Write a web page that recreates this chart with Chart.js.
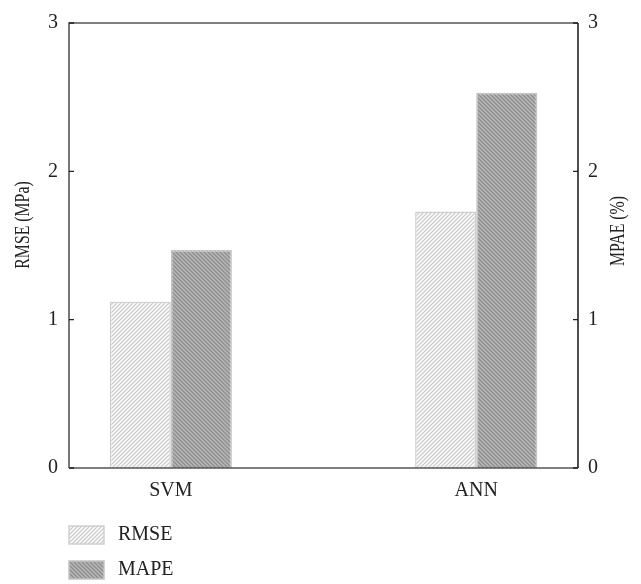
<!DOCTYPE html>
<html>
<head>
<meta charset="utf-8">
<script src="https://cdn.jsdelivr.net/npm/chart.js@4/dist/chart.umd.min.js"></script>
<style>
html,body{margin:0;padding:0;background:#fff;}
#wrap{width:641px;height:584px;position:relative;}
</style>
</head>
<body>
<div id="wrap"><canvas id="c" width="641" height="584"></canvas></div>
<script>
const categories = ['SVM', 'ANN'];
const rmseValues = [1.12, 1.73];
const mapeValues = [1.47, 2.53];
const yTicks = [0, 1, 2, 3];
const seriesNames = ['RMSE', 'MAPE'];
const leftTitle = 'RMSE (MPa)';
const rightTitle = 'MPAE (%)';

const FONT = '"Liberation Serif", "DejaVu Serif", serif';
const TXT = '#222';

function makePattern(bg, fg, dir) {
  const s = 4;
  const cv = document.createElement('canvas');
  cv.width = s; cv.height = s;
  const g = cv.getContext('2d');
  g.fillStyle = bg; g.fillRect(0, 0, s, s);
  g.strokeStyle = fg; g.lineWidth = 1.4;
  g.beginPath();
  if (dir === '/') {
    g.moveTo(-1, s + 1); g.lineTo(s + 1, -1);
    g.moveTo(-1, 1); g.lineTo(1, -1);
    g.moveTo(s - 1, s + 1); g.lineTo(s + 1, s - 1);
  } else {
    g.moveTo(-1, -1); g.lineTo(s + 1, s + 1);
    g.moveTo(s - 1, -1); g.lineTo(s + 1, 1);
    g.moveTo(-1, s - 1); g.lineTo(1, s + 1);
  }
  g.stroke();
  return document.getElementById('c').getContext('2d').createPattern(cv, 'repeat');
}

const rmsePattern = makePattern('#ffffff', '#cdcdcd', '/');
const mapePattern = makePattern('#b9b9b9', '#8e8e8e', '\\');

function vText(ctx, text, x, y) {
  ctx.save();
  ctx.fillStyle = TXT;
  ctx.font = '20px ' + FONT;
  ctx.textAlign = 'center';
  ctx.textBaseline = 'middle';
  ctx.translate(x, y);
  ctx.rotate(-Math.PI / 2);
  ctx.scale(0.79, 1);
  ctx.fillText(text, 0, 0);
  ctx.restore();
}

const framePlugin = {
  id: 'frame',
  afterDatasetsDraw(chart) {
    const {ctx, chartArea: a, scales} = chart;
    ctx.save();
    ctx.strokeStyle = '#555';
    ctx.lineWidth = 1.6;
    ctx.beginPath();
    ctx.moveTo(a.left, a.bottom); ctx.lineTo(a.left, a.top); ctx.lineTo(a.right, a.top);
    ctx.moveTo(a.left, a.bottom); ctx.lineTo(a.right, a.bottom);
    ctx.stroke();
    ctx.strokeStyle = '#222';
    ctx.beginPath();
    ctx.moveTo(a.right, a.top); ctx.lineTo(a.right, a.bottom);
    ctx.stroke();
    ctx.lineWidth = 1.4;
    ctx.beginPath();
    yTicks.forEach(v => {
      const yl = scales.y.getPixelForValue(v);
      ctx.moveTo(a.left, yl); ctx.lineTo(a.left + 5, yl);
      const yr = scales.y2.getPixelForValue(v);
      ctx.moveTo(a.right, yr); ctx.lineTo(a.right - 5, yr);
    });
    ctx.stroke();
    ctx.restore();
  },
  afterDraw(chart) {
    const {ctx} = chart;
    vText(ctx, leftTitle, 24, 225);
    vText(ctx, rightTitle, 619, 231);
    ctx.save();
    chart.data.datasets.forEach((ds, i) => {
      const y = 526 + i * 35;
      ctx.fillStyle = ds.backgroundColor;
      ctx.fillRect(69, y, 35, 18);
      ctx.strokeStyle = ds.borderColor;
      ctx.lineWidth = 1.5;
      ctx.strokeRect(69, y, 35, 18);
      ctx.fillStyle = TXT;
      ctx.font = '20px ' + FONT;
      ctx.textAlign = 'left';
      ctx.textBaseline = 'middle';
      ctx.fillText(ds.label, 118, y + 9);
    });
    ctx.restore();
  }
};

new Chart(document.getElementById('c'), {
  type: 'bar',
  data: {
    datasets: [
      {
        label: seriesNames[0],
        data: categories.map((c, i) => ({x: i, y: rmseValues[i]})),
        backgroundColor: rmsePattern,
        borderColor: '#cfcfcf',
        borderWidth: 1.5,
        yAxisID: 'y'
      },
      {
        label: seriesNames[1],
        data: categories.map((c, i) => ({x: i, y: mapeValues[i]})),
        backgroundColor: mapePattern,
        borderColor: '#c4c4c4',
        borderWidth: 1.5,
        yAxisID: 'y2'
      }
    ]
  },
  options: {
    responsive: false,
    animation: false,
    categoryPercentage: 0.4,
    barPercentage: 1.0,
    layout: {padding: {top: 14, bottom: 76, left: 0, right: 0}},
    plugins: {legend: {display: false}, tooltip: {enabled: false}},
    scales: {
      x: {
        type: 'linear',
        min: -1 / 3,
        max: 4 / 3,
        offset: false,
        grid: {display: false, drawTicks: false, offset: false},
        border: {display: false},
        afterBuildTicks(scale) { scale.ticks = categories.map((c, i) => ({value: i})); },
        afterFit(scale) { scale.height = 40; },
        ticks: {
          padding: 11,
          color: TXT,
          font: {family: FONT, size: 20},
          maxRotation: 0,
          callback: (v) => categories[v]
        }
      },
      y: {
        position: 'left',
        min: 0, max: 3,
        grid: {display: false, drawTicks: false},
        border: {display: false},
        afterBuildTicks(scale) { scale.ticks = yTicks.map(v => ({value: v})); },
        afterFit(scale) { scale.width = 69; },
        ticks: {padding: 11, color: TXT, font: {family: FONT, size: 20}}
      },
      y2: {
        position: 'right',
        min: 0, max: 3,
        grid: {display: false, drawTicks: false},
        border: {display: false},
        afterBuildTicks(scale) { scale.ticks = yTicks.map(v => ({value: v})); },
        afterFit(scale) { scale.width = 63; },
        ticks: {padding: 10, color: TXT, font: {family: FONT, size: 20}}
      }
    }
  },
  plugins: [framePlugin]
});
</script>
</body>
</html>
